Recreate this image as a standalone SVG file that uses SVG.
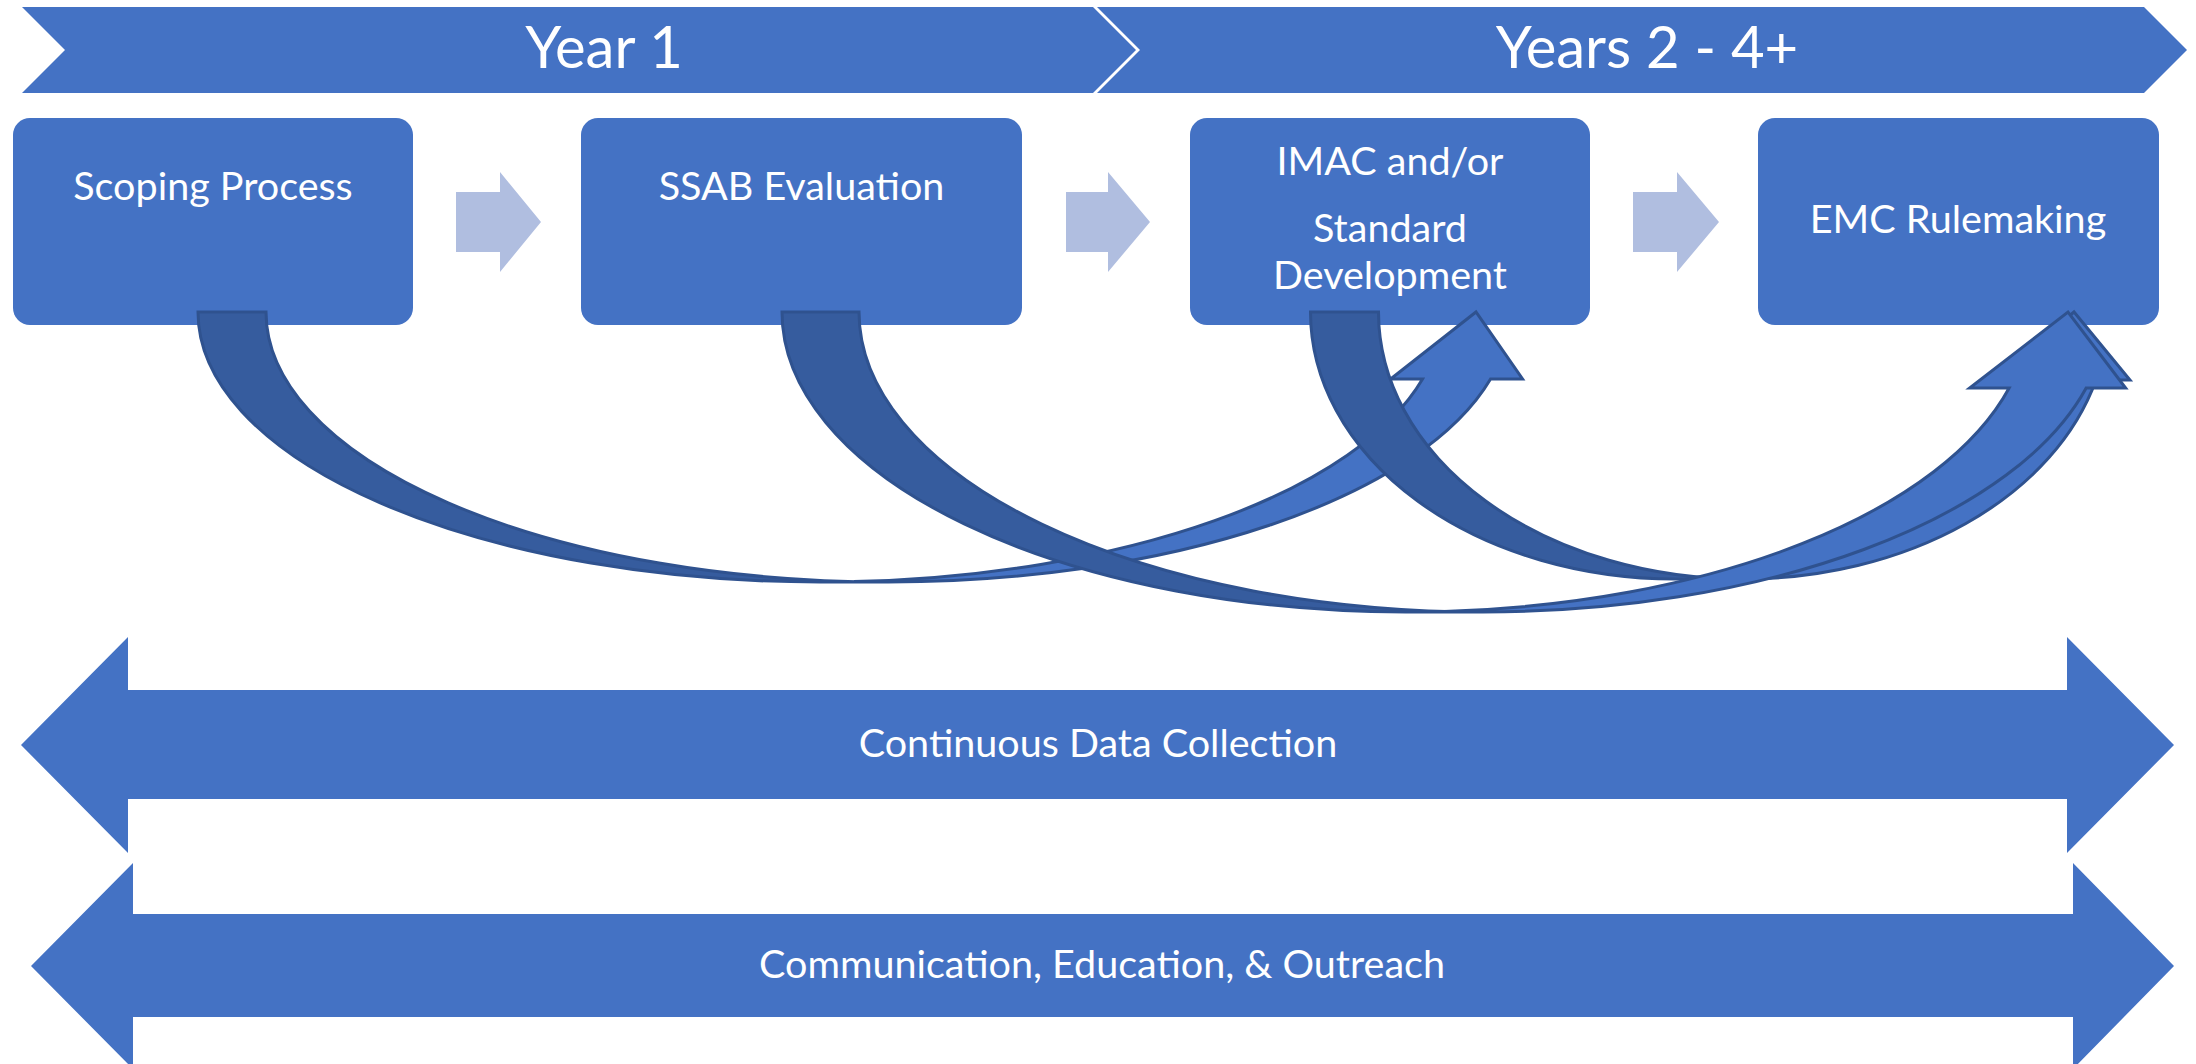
<svg xmlns="http://www.w3.org/2000/svg" width="2196" height="1064" viewBox="0 0 2196 1064">
<style>
.fill{fill:#4472C4}
.step{fill:#B0BEE0}
.lt{fill:#4472C4;stroke:none}
.dk{fill:#365C9E;stroke:none}
.ol{fill:none;stroke:#2F528F;stroke-width:3;stroke-linejoin:miter}
.t{font-family:Lato,"Open Sans","Liberation Sans",sans-serif;fill:#ffffff;text-anchor:middle}
.title{font-size:58px}
.lbl{font-size:39.5px}
</style>
<rect width="2196" height="1064" fill="#ffffff"/>
<g id="banner-year1">
<polygon class="fill" points="22,7 1093,7 1136,50 1093,93 22,93 65,50"/>
<text class="t title" x="604" y="68">Year 1</text>
</g>
<g id="banner-years2-4">
<polygon class="fill" points="1097,7 2144,7 2187,50 2144,93 1097,93 1140,50"/>
<text class="t title" x="1647" y="68">Years 2 - 4+</text>
</g>
<g id="node-scoping">
<rect class="fill" x="13" y="118" width="400" height="207" rx="17"/>
<text class="t lbl" x="213" y="200">Scoping Process</text>
</g>
<g id="node-ssab">
<rect class="fill" x="581" y="118" width="441" height="207" rx="17"/>
<text class="t lbl" x="801.5" y="200">SSAB Evaluation</text>
</g>
<g id="node-imac">
<rect class="fill" x="1190" y="118" width="400" height="207" rx="17"/>
<text class="t lbl" x="1390" y="175">IMAC and/or</text>
<text class="t lbl" x="1390" y="242">Standard</text>
<text class="t lbl" x="1390" y="289">Development</text>
</g>
<g id="node-emc">
<rect class="fill" x="1758" y="118" width="401" height="207" rx="17"/>
<text class="t lbl" x="1958" y="233">EMC Rulemaking</text>
</g>
<g id="connectors">
<polygon class="step" points="456,192 500,192 500,172 541,222 500,272 500,252 456,252"/>
<polygon class="step" points="1066,192 1108,192 1108,172 1150,222 1108,272 1108,252 1066,252"/>
<polygon class="step" points="1633,192 1677,192 1677,172 1719,222 1677,272 1677,252 1633,252"/>
<g id="curve-scoping-imac">
<path class="lt" d="M 1390.55 379 L 1476 312 L 1522.55 379 L 1490.55 379 A 622 270 0 0 1 854 581.6 A 622 270 0 0 0 1422.55 379 Z"/>
<path class="dk" d="M 198 312 A 622 270 0 0 0 854 581.6 A 622 270 0 0 1 266 312 Z"/>
<path class="ol" d="M 854 581.6 A 622 270 0 0 0 1422.55 379 L 1390.55 379 L 1476 312 L 1522.55 379 L 1490.55 379 A 622 270 0 0 1 888 582 L 820 582 A 622 270 0 0 1 198 312 L 266 312 A 622 270 0 0 0 888 582"/>
</g>
<g id="curve-imac-emc">
<path class="lt" d="M 1993.97 380 L 2074 312 L 2129.97 380 L 2095.97 380 A 364.75 267 0 0 1 1709.25 577.84 A 364.75 267 0 0 0 2027.97 380 Z"/>
<path class="dk" d="M 1310.5 312 A 364.75 267 0 0 0 1709.25 577.84 A 364.75 267 0 0 1 1378.5 312 Z"/>
<path class="ol" d="M 1709.25 577.84 A 364.75 267 0 0 0 2027.97 380 L 1993.97 380 L 2074 312 L 2129.97 380 L 2095.97 380 A 364.75 267 0 0 1 1743.25 579 L 1675.25 579 A 364.75 267 0 0 1 1310.5 312 L 1378.5 312 A 364.75 267 0 0 0 1743.25 579"/>
</g>
<g id="curve-ssab-emc">
<path class="lt" d="M 1969.65 388 L 2068 312 L 2125.65 388 L 2086.15 388 A 623.75 300 0 0 1 1444.25 611.43 A 623.75 300 0 0 0 2009.15 388 Z"/>
<path class="dk" d="M 782 312 A 623.75 300 0 0 0 1444.25 611.43 A 623.75 300 0 0 1 859 312 Z"/>
<path class="ol" d="M 1444.25 611.43 A 623.75 300 0 0 0 2009.15 388 L 1969.65 388 L 2068 312 L 2125.65 388 L 2086.15 388 A 623.75 300 0 0 1 1482.75 612 L 1405.75 612 A 623.75 300 0 0 1 782 312 L 859 312 A 623.75 300 0 0 0 1482.75 612"/>
</g>
</g>
<g id="band-data">
<polygon class="fill" points="21,745 128,637 128,690 2067,690 2067,637 2174,745 2067,853 2067,799 128,799 128,853"/>
<text class="t lbl" x="1098" y="757">Continuous Data Collection</text>
</g>
<g id="band-communication">
<polygon class="fill" points="31,966 133,863 133,914 2073,914 2073,863 2174,966 2073,1069 2073,1017 133,1017 133,1069"/>
<text class="t lbl" x="1102" y="978">Communication, Education, &amp; Outreach</text>
</g>
</svg>
